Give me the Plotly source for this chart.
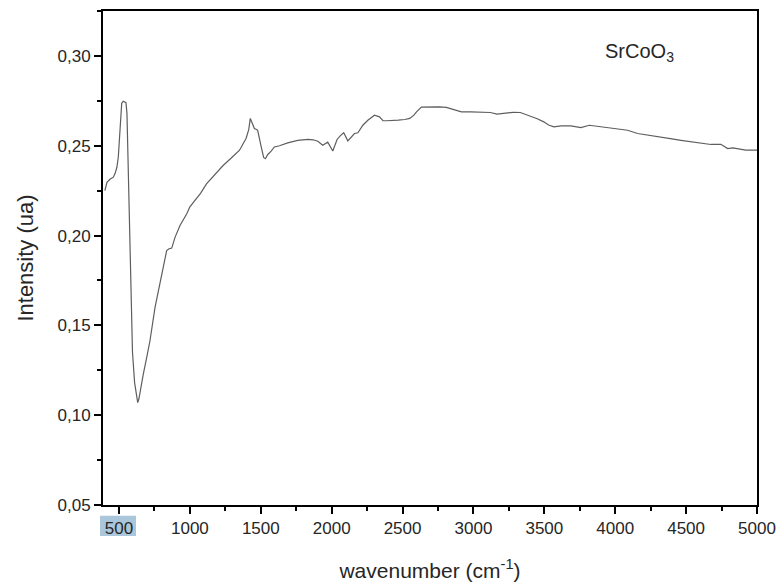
import plotly.graph_objects as go

# FTIR spectrum of SrCoO3
wavenumber = [
    400, 415, 436, 460, 472, 485, 495, 505, 512, 519, 530, 542, 549, 556, 563,
    570, 577, 585, 595, 610, 625, 632, 640, 655, 671, 695, 718, 754, 789, 815,
    836, 850, 872, 895, 930, 977, 1000, 1030, 1075, 1117, 1175, 1234, 1290,
    1350, 1396, 1415, 1426, 1440, 1455, 1470, 1478, 1501, 1520, 1533, 1548,
    1573, 1596, 1632, 1690, 1761, 1831, 1870, 1902, 1937, 1972, 2008, 2038,
    2060, 2085, 2114, 2140, 2161, 2185, 2220, 2255, 2302, 2337, 2362, 2387,
    2421, 2470, 2515, 2551, 2580, 2600, 2633, 2700, 2760, 2809, 2860, 2915,
    2980, 3050, 3119, 3166, 3220, 3280, 3331, 3402, 3450, 3496, 3530, 3567,
    3620, 3687, 3730, 3758, 3817, 3870, 3930, 3993, 4040, 4087, 4158, 4250,
    4346, 4400, 4464, 4520, 4569, 4620, 4675, 4745, 4793, 4830, 4875, 4920,
    4980, 5000,
]
intensity = [
    0.2250, 0.2296, 0.2313, 0.2325, 0.2345, 0.2380, 0.2437, 0.2570, 0.2700,
    0.2736, 0.2748, 0.2745, 0.2740, 0.2680, 0.2450, 0.2195, 0.1900, 0.1600,
    0.1350, 0.1180, 0.1100, 0.1070, 0.1090, 0.1160, 0.1227, 0.1320, 0.1413,
    0.1600, 0.1730, 0.1830, 0.1916, 0.1925, 0.1930, 0.1990, 0.2056, 0.2120,
    0.2160, 0.2190, 0.2235, 0.2288, 0.2340, 0.2390, 0.2430, 0.2475, 0.2540,
    0.2590, 0.2652, 0.2620, 0.2596, 0.2590, 0.2586, 0.2500, 0.2435, 0.2428,
    0.2450, 0.2470, 0.2493, 0.2500, 0.2516, 0.2530, 0.2535, 0.2533, 0.2525,
    0.2503, 0.2520, 0.2471, 0.2535, 0.2555, 0.2572, 0.2527, 0.2550, 0.2568,
    0.2572, 0.2614, 0.2642, 0.2670, 0.2661, 0.2640, 0.2639, 0.2639, 0.2643,
    0.2646, 0.2652, 0.2670, 0.2690, 0.2715, 0.2716, 0.2716, 0.2713, 0.2700,
    0.2689, 0.2688, 0.2686, 0.2685, 0.2676, 0.2680, 0.2686, 0.2685, 0.2665,
    0.2650, 0.2633, 0.2615, 0.2605, 0.2610, 0.2610, 0.2604, 0.2601, 0.2614,
    0.2608, 0.2602, 0.2596, 0.2592, 0.2586, 0.2568, 0.2558, 0.2546, 0.2538,
    0.2530, 0.2525, 0.2520, 0.2512, 0.2507, 0.2508, 0.2484, 0.2488, 0.2484,
    0.2476, 0.2475, 0.2476,
]

X_RANGE = [387, 5000]
Y_RANGE = [0.05, 0.325]
x_ticks = [500, 1000, 1500, 2000, 2500, 3000, 3500, 4000, 4500, 5000]
y_ticks = [0.05, 0.10, 0.15, 0.20, 0.25, 0.30]

FONT = "Liberation Sans, Arial, sans-serif"
TEXT = "#262626"

fig = go.Figure()
fig.add_trace(go.Scatter(
    x=wavenumber, y=intensity, mode="lines",
    line=dict(color="#5e5e5e", width=1.2),
    showlegend=False, hoverinfo="skip",
))

axis_common = dict(
    showline=True, linecolor="black", linewidth=2, mirror=True,
    ticks="outside", tickcolor="black", tickwidth=2, ticklen=7,
    showgrid=False, zeroline=False, automargin=False,
    tickfont=dict(family=FONT, size=17, color=TEXT),
)

fig.update_xaxes(
    range=X_RANGE, tickmode="array", tickvals=x_ticks,
    ticktext=[str(v) for v in x_ticks],
    minor=dict(ticks="outside", ticklen=4, tickwidth=2, tickcolor="black",
               tick0=750, dtick=500, showgrid=False),
    title=dict(text="wavenumber (cm<sup>-1</sup>)",
               font=dict(family=FONT, size=21, color=TEXT), standoff=26),
    **axis_common,
)
fig.update_yaxes(
    range=Y_RANGE, tickmode="array", tickvals=y_ticks,
    ticktext=[f"{v:.2f}".replace(".", ",") for v in y_ticks],
    minor=dict(ticks="outside", ticklen=4, tickwidth=2, tickcolor="black",
               tick0=0.075, dtick=0.05, showgrid=False),
    title=dict(text="Intensity (ua)",
               font=dict(family=FONT, size=22, color=TEXT), standoff=18),
    **axis_common,
)

# sample label
fig.add_annotation(
    xref="paper", yref="paper", x=0.765, y=0.917,
    xanchor="left", yanchor="middle", showarrow=False,
    text="SrCoO<sub>3</sub>",
    font=dict(family=FONT, size=20, color=TEXT),
)

# light-blue highlight behind the first x tick label
frac = (x_ticks[0] - X_RANGE[0]) / (X_RANGE[1] - X_RANGE[0])
fig.add_shape(
    type="rect", xref="paper", yref="paper", layer="below",
    x0=frac - 0.029, x1=frac + 0.026, y0=-0.063, y1=-0.022,
    fillcolor="#a9c6da", line=dict(width=0),
)

fig.update_layout(
    width=780, height=585,
    margin=dict(l=103, r=23, t=11, b=80),
    paper_bgcolor="white", plot_bgcolor="white",
    font=dict(family=FONT, color=TEXT),
)

fig.write_html("out.html")
